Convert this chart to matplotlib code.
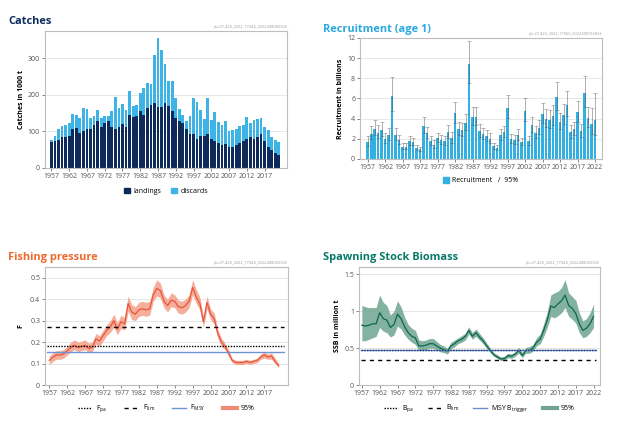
import matplotlib
matplotlib.use("Agg")
import matplotlib.pyplot as plt
from matplotlib.patches import Patch
from matplotlib.lines import Line2D
import numpy as np

plt.rcParams['font.family'] = ['Open Sans', 'DejaVu Sans']
plt.rcParams['mathtext.default'] = 'regular'

# ---- data ----
catch_years = list(range(1957, 2022))
catch_total = [78, 87, 107, 115, 117, 123, 147, 146, 138, 165, 162, 137, 141, 158, 136, 141, 141, 156,
               194, 165, 175, 158, 212, 170, 173, 204, 218, 234, 231, 308, 356, 324, 285, 239, 237, 192,
               162, 145, 128, 142, 192, 182, 159, 133, 191, 132, 152, 125, 118, 130, 100, 103, 106, 116,
               117, 140, 124, 131, 133, 136, 113, 104, 84, 77, 72]
landings = [70, 73, 78, 86, 85, 87, 106, 110, 96, 100, 107, 108, 118, 128, 113, 122, 130, 112,
            108, 112, 120, 112, 145, 140, 141, 155, 145, 165, 172, 178, 168, 168, 178, 170, 157, 136,
            128, 122, 108, 92, 92, 80, 88, 88, 93, 80, 74, 69, 64, 66, 57, 58, 62, 68,
            75, 80, 86, 80, 85, 92, 75, 57, 48, 40, 36]

rec_years = list(range(1957, 2023))
recruit = [1.7, 2.5, 3.0, 2.6, 2.9, 2.0, 2.4, 6.2, 2.4, 1.9, 1.2, 1.2, 1.8, 1.7, 1.1, 0.95, 3.3, 2.6,
           1.8, 1.4, 2.1, 1.9, 1.8, 2.7, 2.1, 4.6, 3.0, 2.9, 3.6, 9.4, 4.2, 4.2, 2.8, 2.5, 2.3, 2.0,
           1.3, 1.1, 2.4, 2.7, 5.1, 2.0, 1.9, 2.4, 1.7, 4.8, 1.8, 3.4, 2.6, 3.1, 4.5, 4.0, 3.9, 4.3,
           6.1, 3.7, 4.4, 5.4, 2.7, 3.0, 4.7, 2.8, 6.5, 4.1, 3.5, 3.9]
rec_lo = [1.3, 2.0, 2.4, 2.1, 2.3, 1.6, 1.9, 4.8, 1.9, 1.5, 0.95, 0.95, 1.4, 1.35, 0.85, 0.75, 2.6, 2.1,
          1.4, 1.1, 1.7, 1.5, 1.4, 2.1, 1.6, 3.6, 2.4, 2.3, 2.9, 7.5, 3.4, 3.4, 2.2, 2.0, 1.8, 1.6,
          1.0, 0.9, 1.9, 2.2, 4.1, 1.6, 1.5, 1.9, 1.35, 3.8, 1.4, 2.7, 2.1, 2.5, 3.6, 3.2, 3.1, 3.4,
          4.9, 3.0, 3.5, 4.3, 2.1, 2.4, 3.7, 2.2, 5.2, 3.2, 2.5, 2.4]
rec_hi = [2.3, 3.3, 3.9, 3.4, 3.7, 2.6, 3.1, 8.1, 3.1, 2.4, 1.6, 1.6, 2.3, 2.1, 1.4, 1.2, 4.2, 3.2,
          2.3, 1.9, 2.6, 2.4, 2.3, 3.4, 2.7, 5.7, 3.7, 3.6, 4.5, 11.7, 5.2, 5.2, 3.5, 3.1, 2.9, 2.6,
          1.6, 1.4, 3.0, 3.3, 6.3, 2.5, 2.4, 3.0, 2.1, 6.0, 2.3, 4.2, 3.3, 3.9, 5.6, 5.0, 4.9, 5.4,
          7.6, 4.6, 5.5, 6.7, 3.4, 3.7, 5.8, 3.5, 8.2, 5.2, 5.1, 6.5]

f_years = list(range(1957, 2022))
f_val = [0.115, 0.13, 0.14, 0.14, 0.145, 0.16, 0.175, 0.185, 0.175, 0.18, 0.185, 0.17, 0.175, 0.215,
         0.205, 0.23, 0.255, 0.27, 0.30, 0.26, 0.295, 0.285, 0.38, 0.34, 0.33, 0.35, 0.355, 0.35,
         0.355, 0.42, 0.45, 0.44, 0.39, 0.37, 0.395, 0.39, 0.365, 0.36, 0.37, 0.39, 0.455, 0.41,
         0.38, 0.295, 0.385, 0.33, 0.31, 0.24, 0.20, 0.18, 0.15, 0.115, 0.105, 0.105, 0.105, 0.11,
         0.105, 0.11, 0.115, 0.13, 0.14, 0.13, 0.135, 0.11, 0.09]
f_lo = [0.095, 0.11, 0.12, 0.12, 0.125, 0.14, 0.155, 0.165, 0.155, 0.16, 0.165, 0.15, 0.155, 0.19,
        0.18, 0.205, 0.23, 0.245, 0.27, 0.235, 0.265, 0.255, 0.345, 0.305, 0.30, 0.32, 0.325, 0.32,
        0.325, 0.39, 0.415, 0.405, 0.36, 0.34, 0.365, 0.36, 0.335, 0.33, 0.34, 0.36, 0.42, 0.38,
        0.35, 0.27, 0.355, 0.305, 0.285, 0.22, 0.18, 0.165, 0.135, 0.105, 0.095, 0.095, 0.095, 0.10,
        0.095, 0.10, 0.105, 0.12, 0.125, 0.12, 0.12, 0.10, 0.08]
f_hi = [0.135, 0.15, 0.16, 0.16, 0.165, 0.18, 0.20, 0.21, 0.20, 0.205, 0.21, 0.195, 0.20, 0.24,
        0.23, 0.255, 0.28, 0.30, 0.33, 0.29, 0.325, 0.315, 0.415, 0.375, 0.365, 0.385, 0.39, 0.385,
        0.39, 0.455, 0.49, 0.475, 0.42, 0.40, 0.43, 0.42, 0.395, 0.39, 0.40, 0.42, 0.49, 0.445,
        0.41, 0.32, 0.415, 0.355, 0.335, 0.26, 0.22, 0.195, 0.165, 0.125, 0.115, 0.115, 0.115, 0.12,
        0.115, 0.12, 0.125, 0.145, 0.155, 0.145, 0.15, 0.125, 0.10]
f_pa, f_lim, f_msy = 0.18, 0.27, 0.152

ssb_years = list(range(1957, 2023))
ssb = [0.81, 0.80, 0.81, 0.83, 0.83, 0.98, 0.90, 0.88, 0.78, 0.82, 0.96, 0.90, 0.79, 0.71, 0.66, 0.64,
       0.53, 0.53, 0.54, 0.56, 0.56, 0.53, 0.50, 0.48, 0.46, 0.53, 0.56, 0.60, 0.62, 0.66, 0.74, 0.66,
       0.71, 0.65, 0.60, 0.53, 0.47, 0.41, 0.38, 0.35, 0.36, 0.40, 0.39, 0.42, 0.47, 0.40, 0.47, 0.47,
       0.50, 0.58, 0.62, 0.74, 0.88, 1.07, 1.05, 1.10, 1.14, 1.22, 1.08, 1.04, 0.97, 0.83, 0.74, 0.77,
       0.83, 0.93]
ssb_lo = [0.60, 0.60, 0.62, 0.64, 0.66, 0.78, 0.73, 0.71, 0.65, 0.68, 0.80, 0.76, 0.68, 0.62, 0.58, 0.55,
          0.47, 0.47, 0.48, 0.50, 0.50, 0.48, 0.45, 0.44, 0.42, 0.49, 0.52, 0.56, 0.58, 0.61, 0.69, 0.62,
          0.66, 0.61, 0.56, 0.50, 0.44, 0.39, 0.36, 0.33, 0.34, 0.37, 0.36, 0.39, 0.43, 0.37, 0.43, 0.43,
          0.46, 0.53, 0.56, 0.66, 0.78, 0.93, 0.91, 0.94, 0.98, 1.05, 0.93, 0.89, 0.84, 0.71, 0.64, 0.66,
          0.71, 0.78]
ssb_hi = [1.08, 1.06, 1.05, 1.05, 1.05, 1.22, 1.12, 1.08, 0.95, 1.00, 1.14, 1.06, 0.92, 0.82, 0.77, 0.74,
          0.61, 0.60, 0.61, 0.63, 0.63, 0.59, 0.55, 0.53, 0.50, 0.58, 0.61, 0.64, 0.67, 0.70, 0.79, 0.71,
          0.76, 0.70, 0.64, 0.57, 0.50, 0.44, 0.41, 0.38, 0.39, 0.43, 0.42, 0.45, 0.51, 0.44, 0.51, 0.52,
          0.55, 0.64, 0.69, 0.83, 0.99, 1.22, 1.25, 1.27, 1.32, 1.43, 1.25, 1.20, 1.15, 0.98, 0.87, 0.90,
          0.98, 1.10]
b_pa, b_lim, msy_btrigger = 0.48, 0.34, 0.477

W, H = 623, 421
fig = plt.figure(figsize=(W / 100, H / 100), dpi=100)


def rect(l, t, r, b):
    return [l / W, 1 - b / H, (r - l) / W, (b - t) / H]


def style(ax):
    for s in ax.spines.values():
        s.set_color('#bdbdbd')
        s.set_linewidth(0.8)
    ax.tick_params(labelsize=5, colors='#555555', length=2, width=0.5, pad=1.5)
    ax.yaxis.grid(True, color='#e3e3e3', lw=0.6)
    ax.set_axisbelow(True)


def title(x, y, txt, col):
    fig.text(x / W, 1 - y / H, txt, color=col, fontsize=7.9, fontweight='bold', va='baseline')


def code(ax, txt):
    ax.text(1, 1.015, txt, transform=ax.transAxes, ha='right', va='bottom', fontsize=2.8, color='#999999')


yrs_ticks = list(range(1957, 2018, 5))
yrs_ticks22 = list(range(1957, 2023, 5))

# ---- Catches ----
ax1 = fig.add_axes(rect(45, 31, 287, 168))
style(ax1)
discards = [t - l for t, l in zip(catch_total, landings)]
ax1.bar(catch_years, landings, width=0.78, color='#0d2a5a')
ax1.bar(catch_years, discards, bottom=landings, width=0.78, color='#3db4e5')
ax1.set_xlim(1955.2, 2023.3)
ax1.set_ylim(0, 375)
ax1.set_yticks([0, 100, 200, 300])
ax1.set_xticks(yrs_ticks)
ax1.set_ylabel('Catches in 1000 t', fontsize=5, fontweight='bold', labelpad=2)
code(ax1, 'pla.27.420_2022_17044_2022408092306')
title(8, 24, 'Catches', '#0e2b5c')
ax1.legend(handles=[Patch(color='#0d2a5a', label='landings'), Patch(color='#3db4e5', label='discards')],
           loc='upper center', bbox_to_anchor=(0.5, -0.1), ncol=2, frameon=False, fontsize=5,
           handlelength=0.8, handleheight=0.8, columnspacing=1.5, handletextpad=0.5)

# ---- Recruitment ----
ax2 = fig.add_axes(rect(360, 38, 602, 159))
style(ax2)
ax2.bar(rec_years, recruit, width=0.75, color='#33b0e2')
yerr = [[v - lo for v, lo in zip(recruit, rec_lo)], [hi - v for v, hi in zip(recruit, rec_hi)]]
ax2.errorbar(rec_years, recruit, yerr=yerr, fmt='none', ecolor='#555555', alpha=0.55,
             elinewidth=0.6, capsize=1.2, capthick=0.5)
ax2.set_xlim(1954.8, 2024)
ax2.set_ylim(0, 12)
ax2.set_yticks(range(0, 13, 2))
ax2.set_xticks(yrs_ticks22)
ax2.set_ylabel('Recruitment in billions', fontsize=5, fontweight='bold', labelpad=2)
code(ax2, 'ple.27.420_2022_17060_2022408193033')
title(323, 32, 'Recruitment (age 1)', '#2aa8df')
ax2.legend(handles=[Patch(color='#33b0e2', label='Recruitment   /  95%')],
           loc='upper center', bbox_to_anchor=(0.5, -0.1), frameon=False, fontsize=5,
           handlelength=0.8, handleheight=0.8, handletextpad=0.5)

# ---- Fishing pressure ----
ax3 = fig.add_axes(rect(45, 267, 288, 385))
style(ax3)
ax3.fill_between(f_years, f_lo, f_hi, color='#f4a08a', alpha=0.85, lw=0)
ax3.plot(f_years, f_val, color='#e8553a', lw=0.9)
ax3.axhline(f_lim, xmin=0.01, xmax=0.985, color='black', ls=(0, (3, 3)), lw=1.0)
ax3.axhline(f_pa, xmin=0.01, xmax=0.985, color='black', ls=(0, (1, 1)), lw=1.0)
ax3.axhline(f_msy, xmin=0.01, xmax=0.985, color='#6a94d4', lw=1.0)
ax3.set_xlim(1955.8, 2023.6)
ax3.set_ylim(0, 0.55)
ax3.set_yticks([0, 0.1, 0.2, 0.3, 0.4, 0.5])
ax3.set_yticklabels(['0', '0.1', '0.2', '0.3', '0.4', '0.5'])
ax3.set_xticks(yrs_ticks)
ax3.set_ylabel('F', fontsize=5, fontweight='bold', labelpad=4)
code(ax3, 'pla.27.420_2022_17044_2022408092306')
title(8, 260, 'Fishing pressure', '#ec6a2e')
ax3.legend(handles=[Line2D([], [], color='black', ls=(0, (1, 1)), lw=1, label='F$_{pa}$'),
                    Line2D([], [], color='black', ls=(0, (3, 3)), lw=1, label='F$_{lim}$'),
                    Line2D([], [], color='#6a94d4', lw=1, label='F$_{MSY}$'),
                    Line2D([], [], color='#f08a70', lw=3, label='95%')],
           loc='upper center', bbox_to_anchor=(0.5, -0.1), ncol=4, frameon=False, fontsize=5,
           handlelength=2, columnspacing=2.5, handletextpad=0.6)

# ---- SSB ----
ax4 = fig.add_axes(rect(359, 267, 600, 385))
style(ax4)
ax4.fill_between(ssb_years, ssb_lo, ssb_hi, color='#6fa58f', alpha=0.85, lw=0)
ax4.plot(ssb_years, ssb, color='#0c6650', lw=0.9)
ax4.axhline(msy_btrigger, xmin=0.01, xmax=0.985, color='#6a8fce', lw=1.0)
ax4.axhline(b_pa, xmin=0.01, xmax=0.985, color='#1a2f6a', ls=(0, (1, 1)), lw=1.0)
ax4.axhline(b_lim, xmin=0.01, xmax=0.985, color='black', ls=(0, (3, 3)), lw=1.0)
ax4.set_xlim(1956.2, 2023.8)
ax4.set_ylim(0, 1.6)
ax4.set_yticks([0, 0.5, 1, 1.5])
ax4.set_yticklabels(['0', '0.5', '1', '1.5'])
ax4.set_xticks(yrs_ticks22)
ax4.set_ylabel('SSB in million t', fontsize=5, fontweight='bold', labelpad=2)
code(ax4, 'ple.27.420_2022_17044_2022408092306')
title(323, 260, 'Spawning Stock Biomass', '#087a68')
ax4.legend(handles=[Line2D([], [], color='black', ls=(0, (1, 1)), lw=1, label='B$_{pa}$'),
                    Line2D([], [], color='black', ls=(0, (3, 3)), lw=1, label='B$_{lim}$'),
                    Line2D([], [], color='#6a8fce', lw=1, label='MSY B$_{trigger}$'),
                    Line2D([], [], color='#6fa58f', lw=3, label='95%')],
           loc='upper center', bbox_to_anchor=(0.5, -0.1), ncol=4, frameon=False, fontsize=5,
           handlelength=2, columnspacing=2.0, handletextpad=0.6)

fig.savefig('out.png', dpi=100)
